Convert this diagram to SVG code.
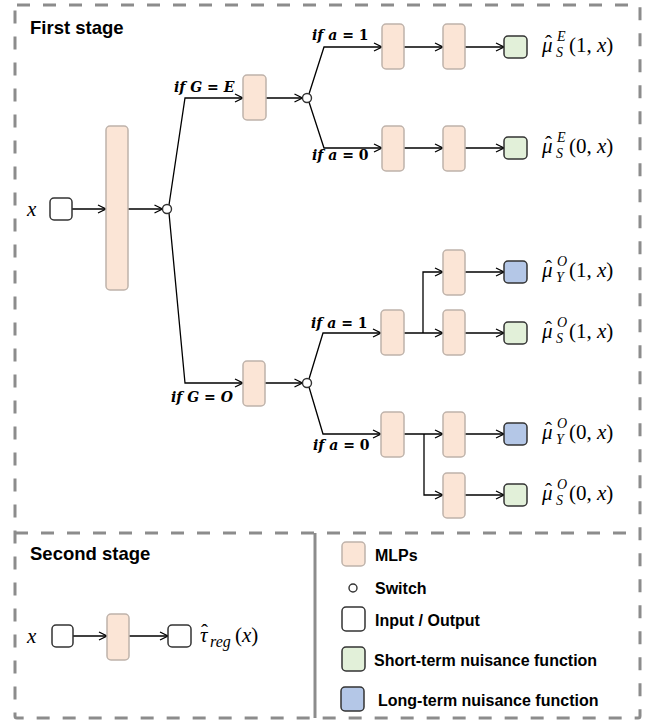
<svg xmlns="http://www.w3.org/2000/svg" width="655" height="723" viewBox="0 0 655 723">
<defs>
<marker id="arr" markerWidth="10" markerHeight="10" refX="9" refY="5" orient="auto" markerUnits="userSpaceOnUse">
<path d="M1,1 L9,5 L1,9" fill="none" stroke="#000" stroke-width="1.3"/>
</marker>
<style>
.mlp{fill:#fbe5d6;stroke:#bfb3ab;stroke-width:1.5}
.io{fill:#fff;stroke:#333;stroke-width:1.5}
.sh{fill:#e2f0d9;stroke:#333;stroke-width:1.5}
.lo{fill:#b4c7e7;stroke:#333;stroke-width:1.5}
.sw{fill:#fff;stroke:#333;stroke-width:1.4}
.c{fill:none;stroke:#000;stroke-width:1.3}
.a{marker-end:url(#arr)}
.title{font-family:"Liberation Sans",Arial,sans-serif;font-weight:bold;font-size:18.5px;fill:#000}
.leg{font-family:"Liberation Sans",Arial,sans-serif;font-weight:bold;font-size:16px;fill:#000}
.cond{font-family:"DejaVu Serif","Liberation Serif",serif;font-weight:bold;font-size:14px;fill:#000}
.cond .i{font-style:italic}
.m{font-family:"Liberation Serif","Times New Roman",serif;font-size:21px;fill:#000}
.m .i{font-style:italic}
.m .s{font-size:14px;font-style:italic}
.m .r{font-size:16px;font-style:italic}
.bd{fill:none;stroke:#8c8c8c;stroke-width:3}
.dash{stroke-dasharray:13 13}
</style>
</defs>

<g id="borders">
<rect class="bd dash" x="15" y="5" width="625" height="713" rx="2"/>
<line class="bd dash" x1="15" y1="533" x2="640" y2="533"/>
<line class="bd" x1="315" y1="533" x2="315" y2="718"/>
</g>

<text class="title" x="30" y="34">First stage</text>
<text class="title" x="30" y="560">Second stage</text>

<g id="connectors">
<line class="c a" x1="72" y1="209" x2="106" y2="209"/>
<line class="c a" x1="128" y1="209" x2="162.5" y2="209"/>
<polyline class="c a" points="169,205 185,98 243,98"/>
<polyline class="c a" points="169,213 185,383 243,383"/>
<line class="c a" x1="266" y1="98" x2="302.5" y2="98"/>
<line class="c a" x1="265" y1="383" x2="302.5" y2="383"/>
<polyline class="c a" points="309,94 324,47 382,47"/>
<polyline class="c a" points="309,102 324,148 382,148"/>
<line class="c a" x1="404" y1="47" x2="443" y2="47"/>
<line class="c a" x1="465" y1="47" x2="504" y2="47"/>
<line class="c a" x1="404" y1="148" x2="443" y2="148"/>
<line class="c a" x1="465" y1="148" x2="504" y2="148"/>
<polyline class="c a" points="309,379 323,333 381,333"/>
<polyline class="c a" points="309,387 323,434 381,434"/>
<line class="c a" x1="404" y1="333" x2="443" y2="333"/>
<polyline class="c a" points="423,333 423,272 443,272"/>
<line class="c a" x1="465" y1="272" x2="504" y2="272"/>
<line class="c a" x1="465" y1="333" x2="504" y2="333"/>
<line class="c a" x1="404" y1="434" x2="443" y2="434"/>
<polyline class="c a" points="424,434 424,495 443,495"/>
<line class="c a" x1="465" y1="434" x2="504" y2="434"/>
<line class="c a" x1="465" y1="495" x2="504" y2="495"/>
<line class="c a" x1="73" y1="636" x2="107" y2="636"/>
<line class="c a" x1="129" y1="636" x2="168" y2="636"/>
</g>

<g id="input-x">
<rect class="io" x="50" y="198" width="22" height="22" rx="4"/>
<text class="m" x="27" y="216"><tspan class="i">x</tspan></text>
</g>
<g id="mlp-shared"><rect class="mlp" x="106" y="126" width="22" height="164" rx="4"/></g>
<g id="switch-G"><circle class="sw" cx="167" cy="209" r="4.5"/></g>

<g id="label-GE"><text class="cond" x="174" y="92"><tspan class="i">if G</tspan> = <tspan class="i">E</tspan></text></g>
<g id="label-GO"><text class="cond" x="171" y="402"><tspan class="i">if G</tspan> = <tspan class="i">O</tspan></text></g>

<g id="mlp-E"><rect class="mlp" x="243" y="75" width="23" height="45" rx="4"/></g>
<g id="switch-aE"><circle class="sw" cx="307" cy="98" r="4.5"/></g>
<g id="label-E-a1"><text class="cond" x="312" y="40"><tspan class="i">if a</tspan> = 1</text></g>
<g id="label-E-a0"><text class="cond" x="312" y="160"><tspan class="i">if a</tspan> = 0</text></g>
<g id="mlp-E1a"><rect class="mlp" x="382" y="24" width="22" height="45" rx="4"/></g>
<g id="mlp-E1b"><rect class="mlp" x="443" y="24" width="22" height="45" rx="4"/></g>
<g id="out-E1"><rect class="sh" x="504" y="36" width="23" height="22" rx="4"/>
<text class="m"><tspan class="i" x="542" y="52">μ</tspan><tspan x="545" y="50">ˆ</tspan><tspan class="s" x="556" y="57">S</tspan><tspan class="s" x="557" y="41">E</tspan><tspan x="569" y="52">(1, </tspan><tspan class="i">x</tspan>)</text></g>
<g id="mlp-E0a"><rect class="mlp" x="382" y="126" width="22" height="45" rx="4"/></g>
<g id="mlp-E0b"><rect class="mlp" x="443" y="126" width="22" height="45" rx="4"/></g>
<g id="out-E0"><rect class="sh" x="504" y="137" width="23" height="22" rx="4"/>
<text class="m"><tspan class="i" x="542" y="153">μ</tspan><tspan x="545" y="151">ˆ</tspan><tspan class="s" x="556" y="158">S</tspan><tspan class="s" x="557" y="142">E</tspan><tspan x="569" y="153">(0, </tspan><tspan class="i">x</tspan>)</text></g>

<g id="mlp-O"><rect class="mlp" x="243" y="361" width="22" height="45" rx="4"/></g>
<g id="switch-aO"><circle class="sw" cx="307" cy="383" r="4.5"/></g>
<g id="label-O-a1"><text class="cond" x="311" y="328"><tspan class="i">if a</tspan> = 1</text></g>
<g id="label-O-a0"><text class="cond" x="313" y="450"><tspan class="i">if a</tspan> = 0</text></g>
<g id="mlp-O1"><rect class="mlp" x="381" y="310" width="23" height="45" rx="4"/></g>
<g id="mlp-O1Y"><rect class="mlp" x="443" y="250" width="22" height="45" rx="4"/></g>
<g id="mlp-O1S"><rect class="mlp" x="443" y="310" width="22" height="45" rx="4"/></g>
<g id="out-O1Y"><rect class="lo" x="504" y="261" width="23" height="22" rx="4"/>
<text class="m"><tspan class="i" x="542" y="277">μ</tspan><tspan x="545" y="275">ˆ</tspan><tspan class="s" x="556" y="282">Y</tspan><tspan class="s" x="557" y="266">O</tspan><tspan x="569" y="277">(1, </tspan><tspan class="i">x</tspan>)</text></g>
<g id="out-O1S"><rect class="sh" x="504" y="322" width="23" height="22" rx="4"/>
<text class="m"><tspan class="i" x="542" y="338">μ</tspan><tspan x="545" y="336">ˆ</tspan><tspan class="s" x="556" y="343">S</tspan><tspan class="s" x="557" y="327">O</tspan><tspan x="569" y="338">(1, </tspan><tspan class="i">x</tspan>)</text></g>
<g id="mlp-O0"><rect class="mlp" x="381" y="412" width="23" height="45" rx="4"/></g>
<g id="mlp-O0Y"><rect class="mlp" x="443" y="412" width="22" height="45" rx="4"/></g>
<g id="mlp-O0S"><rect class="mlp" x="443" y="473" width="22" height="45" rx="4"/></g>
<g id="out-O0Y"><rect class="lo" x="504" y="423" width="23" height="22" rx="4"/>
<text class="m"><tspan class="i" x="542" y="439">μ</tspan><tspan x="545" y="437">ˆ</tspan><tspan class="s" x="556" y="444">Y</tspan><tspan class="s" x="557" y="428">O</tspan><tspan x="569" y="439">(0, </tspan><tspan class="i">x</tspan>)</text></g>
<g id="out-O0S"><rect class="sh" x="504" y="484" width="23" height="22" rx="4"/>
<text class="m"><tspan class="i" x="542" y="500">μ</tspan><tspan x="545" y="498">ˆ</tspan><tspan class="s" x="556" y="505">S</tspan><tspan class="s" x="557" y="489">O</tspan><tspan x="569" y="500">(0, </tspan><tspan class="i">x</tspan>)</text></g>

<g id="second-input"><rect class="io" x="52" y="625" width="21" height="22" rx="4"/>
<text class="m" x="27" y="643"><tspan class="i">x</tspan></text></g>
<g id="second-mlp"><rect class="mlp" x="107" y="614" width="22" height="46" rx="4"/></g>
<g id="second-output"><rect class="io" x="168" y="625" width="23" height="22" rx="4"/>
<text class="m"><tspan class="i" x="200" y="642">τ</tspan><tspan x="201" y="639">ˆ</tspan><tspan class="r" x="210" y="647">reg</tspan><tspan x="235" y="642">(</tspan><tspan class="i">x</tspan>)</text></g>

<g id="legend">
<rect class="mlp" x="342" y="542" width="23" height="24" rx="4"/>
<text class="leg" x="375" y="561">MLPs</text>
<circle class="sw" cx="353" cy="588" r="4"/>
<text class="leg" x="375" y="594">Switch</text>
<rect class="io" x="342" y="607" width="23" height="24" rx="4"/>
<text class="leg" x="375" y="626">Input / Output</text>
<rect class="sh" x="342" y="647" width="23" height="24" rx="4"/>
<text class="leg" x="374" y="666">Short-term nuisance function</text>
<rect class="lo" x="341" y="687" width="23" height="24" rx="4"/>
<text class="leg" x="378" y="706">Long-term nuisance function</text>
</g>
</svg>
